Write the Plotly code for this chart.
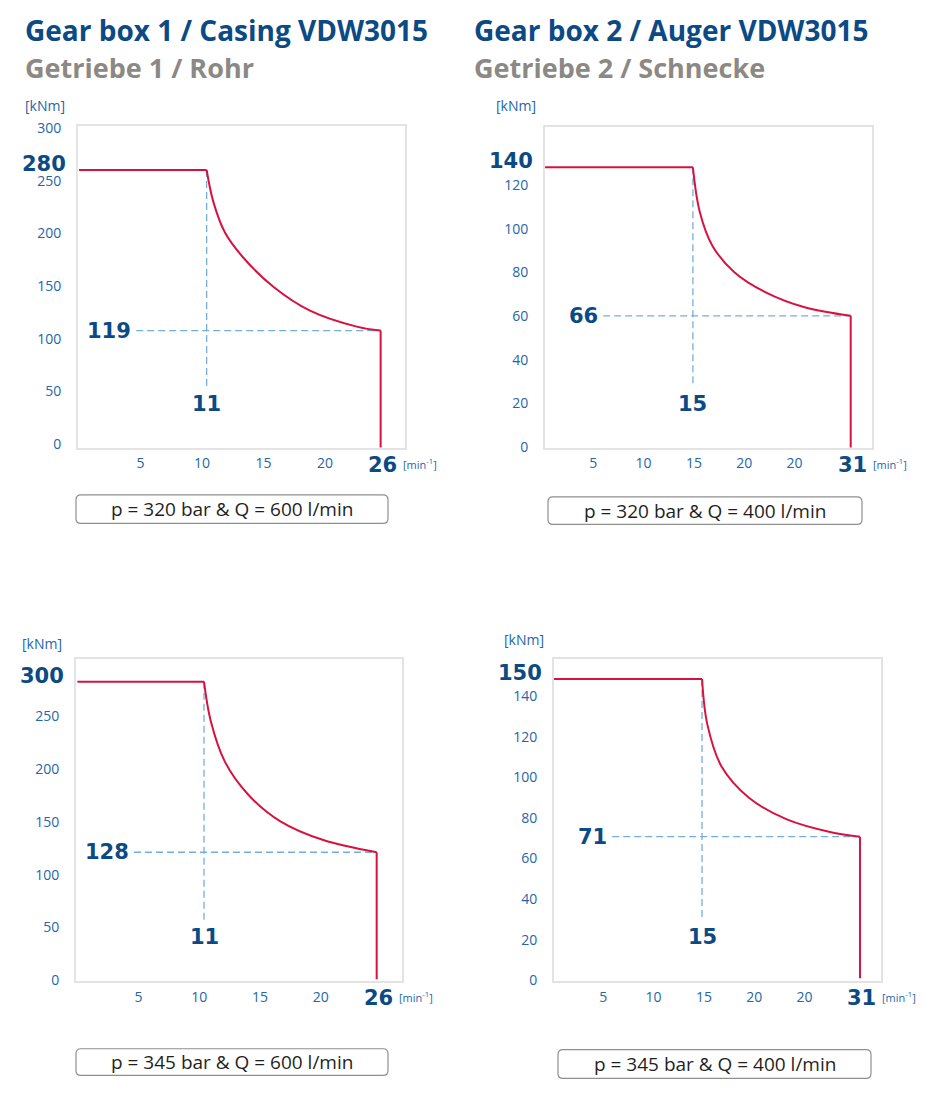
import plotly.graph_objects as go

W, H = 930, 1107

# ---------------- data ----------------
titles_en = ["Gear box 1 / Casing VDW3015", "Gear box 2 / Auger VDW3015"]
titles_de = ["Getriebe 1 / Rohr", "Getriebe 2 / Schnecke"]
conditions = ["p = 320 bar & Q = 600 l/min", "p = 320 bar & Q = 400 l/min",
              "p = 345 bar & Q = 600 l/min", "p = 345 bar & Q = 400 l/min"]

max_torque = [280, 140, 300, 150]      # kNm
corner_speed = [11, 15, 11, 15]        # min^-1
end_torque = [119, 66, 128, 71]        # kNm
max_speed = [26, 31, 26, 31]           # min^-1

# constant-power arc (corner -> max speed)
arc_speed_1 = [11, 11.58, 12.59, 14.17, 16.75, 19.91, 23.94, 26]
arc_torque_1 = [280, 248, 217, 192, 163, 139, 123, 119]
arc_speed_2 = [15, 15.69, 17.0, 19.23, 22.33, 26.42, 31]
arc_torque_2 = [140, 117.9, 100.7, 87.6, 77.8, 70.1, 66]
arc_speed_3 = [11, 11.58, 12.82, 14.85, 17.6, 21.37, 26]
arc_torque_3 = [300, 260.6, 219.2, 186, 159.5, 140.3, 128]
arc_speed_4 = [15, 15.53, 16.99, 19.75, 23.53, 28.29, 31]
arc_torque_4 = [150, 127.4, 106, 90.5, 79.8, 73, 71]
arc_speeds = [arc_speed_1, arc_speed_2, arc_speed_3, arc_speed_4]
arc_torques = [arc_torque_1, arc_torque_2, arc_torque_3, arc_torque_4]

y_ticks_1 = [0, 50, 100, 150, 200, 250, 300]
y_ticks_2 = [0, 20, 40, 60, 80, 100, 120]
y_ticks_3 = [0, 50, 100, 150, 200, 250]
y_ticks_4 = [0, 20, 40, 60, 80, 100, 120, 140]
y_ticks = [y_ticks_1, y_ticks_2, y_ticks_3, y_ticks_4]

x_ticks_a = [5, 10, 15, 20]
x_ticklabels_a = ["5", "10", "15", "20"]
x_ticks_b = [5, 10, 15, 20, 25]
x_ticklabels_b = ["5", "10", "15", "20", "20"]
x_ticks = [x_ticks_a, x_ticks_b, x_ticks_a, x_ticks_b]
x_ticklabels = [x_ticklabels_a, x_ticklabels_b, x_ticklabels_a, x_ticklabels_b]

# ---------------- styles / layout ----------------
RED = "#d8123f"
DASH = "#74aedb"
TICK = "#2566a8"
DARK = "#0b4a84"
GREY = "#8c8984"
FRAME = "#e3e3e3"
FONT = "Open Sans"
BOLDFONT = "DejaVu Sans"

# plot boxes in pixels: left, right, top, bottom
boxes = [(78, 405, 120, 446), (545, 872, 121, 446), (76, 402, 661, 987), (554, 881, 661, 987)]
curve_xr = [(-0.09, 28.1), (0, 33.16), (-0.12, 28.2), (0, 33.13)]
curve_yr = [(1.8, 323.8), (0.3, 160), (-1.6, 322.5), (-1.2, 159.8)]
tick_xr = [(-0.08, 26.5), (0.2, 32.7), (-0.15, 26.7), (0.1, 32.6)]
tick_yr = [(-3.08, 301.6), (-0.27, 146.6), (-0.5, 304), (-0.3, 158.3)]
cond_boxes = [(76, 388, 494, 523), (548, 862, 496, 524), (76, 388, 1056, 1083), (558, 871, 1057, 1086)]
knm_pos = [(44.5, 99), (516, 99), (41.5, 645), (524, 641)]

def px(x):
    return x / W

def py(y):
    return 1 - y / H

fig = go.Figure()
shapes = []
annotations = []

for i in range(4):
    L, R, T, B = boxes[i]
    k = 2 * i + 1
    cx, cy = ("x" if k == 1 else f"x{k}"), ("y" if k == 1 else f"y{k}")
    tx, ty = f"x{k+1}", f"y{k+1}"
    cxk = "xaxis" if k == 1 else f"xaxis{k}"
    cyk = "yaxis" if k == 1 else f"yaxis{k}"

    fig.add_trace(go.Scatter(x=[0, corner_speed[i]], y=[max_torque[i], max_torque[i]],
                             mode="lines", line=dict(color=RED, width=2),
                             xaxis=cx, yaxis=cy, showlegend=False, hoverinfo="skip"))
    fig.add_trace(go.Scatter(x=arc_speeds[i], y=arc_torques[i], mode="lines",
                             line=dict(color=RED, width=2, shape="spline", smoothing=1.0),
                             xaxis=cx, yaxis=cy, showlegend=False, hoverinfo="skip"))
    fig.add_trace(go.Scatter(x=[max_speed[i], max_speed[i]], y=[end_torque[i], 0],
                             mode="lines", line=dict(color=RED, width=2),
                             xaxis=cx, yaxis=cy, showlegend=False, hoverinfo="skip"))
    fig.add_trace(go.Scatter(x=[None], y=[None], xaxis=tx, yaxis=ty, showlegend=False, hoverinfo="skip"))

    dom_x = [px(L), px(R)]
    dom_y = [py(B), py(T)]
    fig.layout[cxk] = dict(domain=dom_x, range=list(curve_xr[i]), anchor=cy,
                           showticklabels=False, showgrid=False, zeroline=False,
                           showline=True, mirror=True, linecolor=FRAME, linewidth=2,
                           ticks="", fixedrange=True)
    fig.layout[cyk] = dict(domain=dom_y, range=list(curve_yr[i]), anchor=cx,
                           showticklabels=False, showgrid=False, zeroline=False,
                           showline=True, mirror=True, linecolor=FRAME, linewidth=2,
                           ticks="", fixedrange=True)
    fig.layout[f"xaxis{k+1}"] = dict(overlaying=cx, anchor=cy, range=list(tick_xr[i]),
                                     tickmode="array", tickvals=x_ticks[i], ticktext=x_ticklabels[i],
                                     showgrid=False, zeroline=False, showline=False,
                                     ticks="outside", ticklen=3, tickcolor="rgba(0,0,0,0)",
                                     tickfont=dict(family=FONT, size=14, color=TICK), fixedrange=True)
    fig.layout[f"yaxis{k+1}"] = dict(overlaying=cy, anchor=cx, range=list(tick_yr[i]),
                                     tickmode="array", tickvals=y_ticks[i],
                                     showgrid=False, zeroline=False, showline=False,
                                     ticks="outside", ticklen=13, tickcolor="rgba(0,0,0,0)",
                                     tickfont=dict(family=FONT, size=14, color=TICK), fixedrange=True)

    x0r, x1r = curve_xr[i]
    y0r, y1r = curve_yr[i]
    y_low = y0r + 0.19 * (y1r - y0r)
    x_left = x0r + 0.178 * (x1r - x0r)
    shapes.append(dict(type="line", xref=cx, yref=cy, x0=corner_speed[i], x1=corner_speed[i],
                       y0=max_torque[i], y1=y_low, layer="below",
                       line=dict(color=DASH, width=1.3, dash="7px,4px")))
    shapes.append(dict(type="line", xref=cx, yref=cy, x0=x_left, x1=max_speed[i],
                       y0=end_torque[i], y1=end_torque[i], layer="below",
                       line=dict(color=DASH, width=1.3, dash="7px,4px")))

    bold = dict(family=BOLDFONT, size=21, color=DARK, weight="bold")
    annotations.append(dict(text=str(max_torque[i]), xref=f"{cx} domain", yref=cy, x=0, y=max_torque[i],
                            xanchor="right", yanchor="middle", xshift=-10, yshift=6,
                            showarrow=False, font=bold))
    annotations.append(dict(text=str(end_torque[i]), xref=cx, yref=cy, x=x_left, y=end_torque[i],
                            xanchor="right", yanchor="middle", xshift=-3, yshift=0,
                            showarrow=False, font=bold))
    annotations.append(dict(text=str(corner_speed[i]), xref=cx, yref=f"{cy} domain",
                            x=corner_speed[i], y=0.137, xanchor="center", yanchor="middle",
                            showarrow=False, font=bold))
    annotations.append(dict(text=str(max_speed[i]), xref=cx, yref=f"{cy} domain",
                            x=max_speed[i], y=0, xanchor="center", yanchor="middle",
                            xshift=2, yshift=-17, showarrow=False, font=bold))
    annotations.append(dict(text="[min<sup>-1</sup>]", xref=cx, yref=f"{cy} domain",
                            x=max_speed[i], y=0, xanchor="left", yanchor="middle",
                            xshift=20, yshift=-16, showarrow=False,
                            font=dict(family=FONT, size=11, color=TICK)))
    annotations.append(dict(text="[kNm]", xref="paper", yref="paper", x=px(knm_pos[i][0]), y=py(knm_pos[i][1]),
                            xanchor="center", yanchor="middle", showarrow=False,
                            font=dict(family=FONT, size=14, color=TICK)))

    bl, br, bt, bb = cond_boxes[i]
    r = 5
    path = (f"M {px(bl + r)},{py(bt)} L {px(br - r)},{py(bt)} Q {px(br)},{py(bt)} {px(br)},{py(bt + r)} "
            f"L {px(br)},{py(bb - r)} Q {px(br)},{py(bb)} {px(br - r)},{py(bb)} "
            f"L {px(bl + r)},{py(bb)} Q {px(bl)},{py(bb)} {px(bl)},{py(bb - r)} "
            f"L {px(bl)},{py(bt + r)} Q {px(bl)},{py(bt)} {px(bl + r)},{py(bt)} Z")
    shapes.append(dict(type="path", xref="paper", yref="paper", path=path,
                       line=dict(color="#8f8f8f", width=1.2), fillcolor="white"))
    annotations.append(dict(text=conditions[i], xref="paper", yref="paper",
                            x=px((bl + br) / 2), y=py((bt + bb) / 2), xanchor="center", yanchor="middle",
                            showarrow=False, font=dict(family=FONT, size=19, color="#1f1f1f")))

for j, lx in enumerate([23, 472]):
    annotations.append(dict(text=titles_en[j], xref="paper", yref="paper", x=px(lx), y=py(22),
                            xanchor="left", yanchor="middle", showarrow=False,
                            font=dict(family=FONT, size=28, color=DARK, weight="bold")))
    annotations.append(dict(text=titles_de[j], xref="paper", yref="paper", x=px(lx), y=py(60),
                            xanchor="left", yanchor="middle", showarrow=False,
                            font=dict(family=FONT, size=27, color=GREY, weight="bold")))

fig.update_layout(width=W, height=H, margin=dict(l=0, r=0, t=0, b=0),
                  paper_bgcolor="white", plot_bgcolor="white",
                  shapes=shapes, annotations=annotations, showlegend=False)

fig.write_html("out.html", config={"displayModeBar": False},
               post_script="document.body.style.margin='0px';")
